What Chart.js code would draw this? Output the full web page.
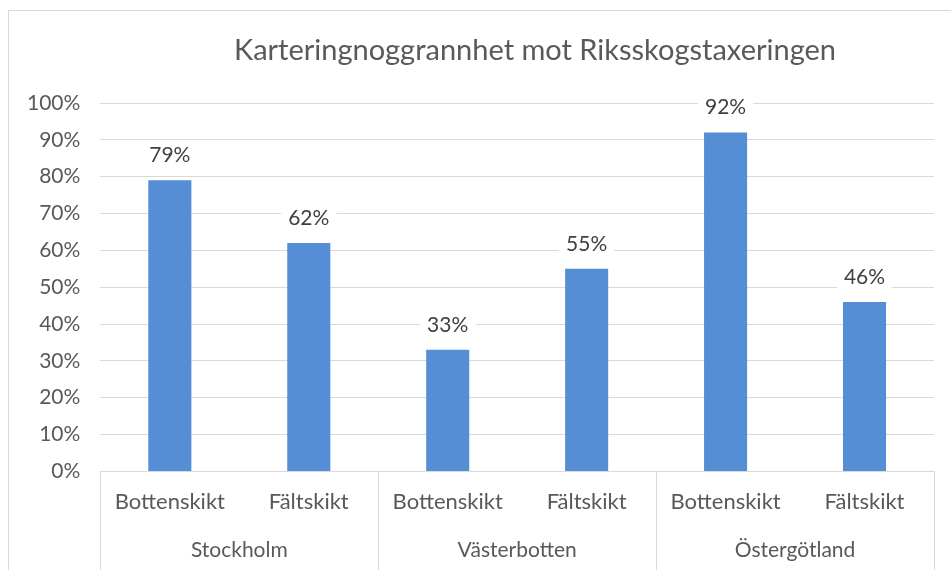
<!DOCTYPE html>
<html>
<head>
<meta charset="utf-8">
<script src="https://cdn.jsdelivr.net/npm/chart.js@4.4.1/dist/chart.umd.min.js"></script>
<style>
  html, body { margin: 0; padding: 0; background: #fff; overflow: hidden; }
  #frame { position: absolute; left: 8px; top: 10px; width: 980px; height: 600px; border: 1px solid #d9d9d9; }
  #wrap { position: absolute; left: 0; top: 0; width: 951px; height: 570px; }
</style>
</head>
<body>
<div id="frame"></div>
<div id="wrap"><canvas id="chart"></canvas></div>
<script>
const subLabels = ['Bottenskikt', 'Fältskikt', 'Bottenskikt', 'Fältskikt', 'Bottenskikt', 'Fältskikt'];
const groupLabels = ['Stockholm', 'Västerbotten', 'Östergötland'];
const values = [79, 62, 33, 55, 92, 46];
const titleText = 'Karteringnoggrannhet mot Riksskogstaxeringen';

const fontFam = 'Lato, "Open Sans", sans-serif';
const textCol = '#595959';
const gridCol = '#d9d9d9';

// rubriken ritas själv, den sitter lite till höger om mitten i originalet
const titlePlugin = {
  id: 'titlePlugin',
  afterDraw(chart){
    const ctx = chart.ctx;
    ctx.save();
    ctx.font = '29px ' + fontFam;
    ctx.fillStyle = textCol;
    ctx.textAlign = 'center';
    ctx.textBaseline = 'middle';
    ctx.fillText(titleText, 535, 51);
    ctx.restore();
  }
};

// etiketter ovanför staplarna, med vit bakgrund
const barLabels = {
  id: 'barLabels',
  afterDatasetsDraw(chart){
    const ctx = chart.ctx;
    const meta = chart.getDatasetMeta(0);
    ctx.save();
    ctx.font = '21px ' + fontFam;
    ctx.textAlign = 'center';
    ctx.textBaseline = 'middle';
    meta.data.forEach((bar, i) => {
      const txt = values[i] + '%';
      const y = bar.y - 25;
      const w = ctx.measureText(txt).width + 14;
      ctx.fillStyle = '#fff';
      ctx.fillRect(bar.x - w / 2, y - 13, w, 26);
      ctx.fillStyle = '#404040';
      ctx.fillText(txt, bar.x, y);
    });
    ctx.restore();
  }
};

// vertikala avdelare mellan grupperna under x-axeln
const groupLines = {
  id: 'groupLines',
  afterDraw(chart){
    const ctx = chart.ctx;
    const a = chart.chartArea;
    const n = groupLabels.length;
    ctx.save();
    ctx.strokeStyle = gridCol;
    ctx.lineWidth = 1;
    for(let k = 0; k <= n; k++){
      const x = Math.round(a.left + k * (a.right - a.left) / n) + 0.5;
      ctx.beginPath();
      ctx.moveTo(x, a.bottom);
      ctx.lineTo(x, chart.height);
      ctx.stroke();
    }
    ctx.restore();
  }
};

new Chart(document.getElementById('chart'), {
  type: 'bar',
  data: {
    labels: subLabels,
    datasets: [{
      data: values,
      backgroundColor: '#558ed5',
      borderWidth: 0,
      categoryPercentage: 1,
      barPercentage: 0.31
    }]
  },
  options: {
    responsive: true,
    maintainAspectRatio: false,
    animation: false,
    layout: { padding: { left: 7, right: 17, top: 103, bottom: 1 } },
    plugins: {
      legend: { display: false },
      tooltip: { enabled: false },
      title: { display: false }
    },
    scales: {
      x: {
        grid: { display: false, tickLength: 0 },
        border: { display: true, color: gridCol },
        ticks: { color: textCol, font: { family: fontFam, size: 22 }, padding: 17, maxRotation: 0 }
      },
      x2: {
        type: 'category',
        position: 'bottom',
        labels: groupLabels,
        grid: { display: false, tickLength: 0 },
        border: { display: false },
        ticks: { color: textCol, font: { family: fontFam, size: 21 }, padding: 6, maxRotation: 0 }
      },
      y: {
        min: 0,
        max: 100,
        ticks: {
          stepSize: 10,
          color: textCol,
          font: { family: fontFam, size: 21 },
          padding: 20,
          callback: v => v + '%'
        },
        grid: { color: gridCol, drawTicks: false },
        border: { display: false }
      }
    }
  },
  plugins: [barLabels, groupLines, titlePlugin]
});
</script>
</body>
</html>
